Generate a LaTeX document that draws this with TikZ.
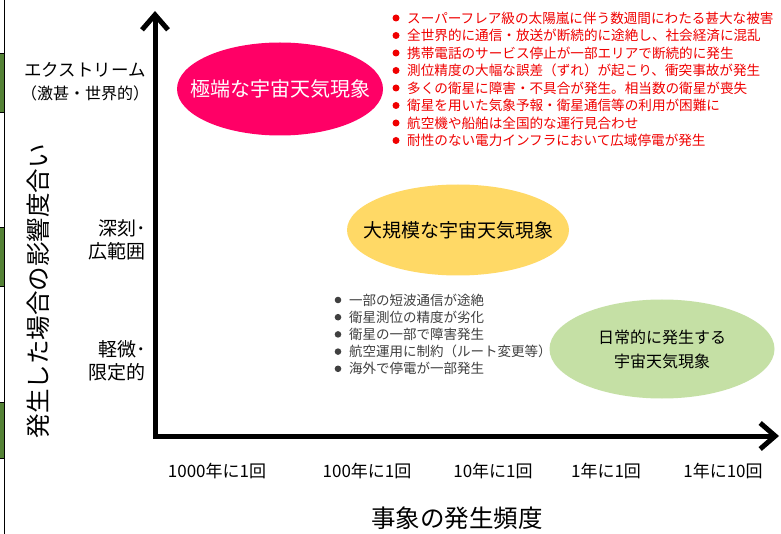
\documentclass[tikz,border=0pt]{standalone}
\usepackage{fontspec}
\newfontfamily\jp{Noto Sans CJK JP}
\usetikzlibrary{shapes.geometric,arrows.meta}
\definecolor{pinkE}{HTML}{FF0066}
\definecolor{yellowE}{HTML}{FFD966}
\definecolor{greenE}{HTML}{C5E0A5}
\definecolor{redT}{HTML}{F00000}
\definecolor{grayT}{HTML}{404040}
\definecolor{barG}{HTML}{548235}
\tikzset{
  axis/.style={line width=5pt, line join=miter,
    {Straight Barb[length=15pt,width=26pt,line width=5pt]}-{Straight Barb[length=15pt,width=26pt,line width=5pt]}},
  blob/.style={ellipse, inner sep=0pt},
  phen/.style={inner sep=0pt, align=center, font=\jp\fontsize{19}{23}\selectfont},
  redline/.style={anchor=west, inner sep=0pt, text=redT, font=\jp\fontsize{13.6}{16}\selectfont},
  grayline/.style={anchor=west, inner sep=0pt, text=grayT, font=\jp\fontsize{13.5}{15}\selectfont},
  lvl/.style={inner sep=0pt, font=\jp\fontsize{19}{23}\selectfont},
  tick/.style={inner sep=0pt, font=\jp\fontsize{17}{20}\selectfont},
  title/.style={inner sep=0pt, font=\jp\fontsize{24.5}{28}\selectfont}
}
\begin{document}
\begin{tikzpicture}[x=1pt,y=-1pt]
\useasboundingbox (0,0) rectangle (781,534);
\fill[white] (0,0) rectangle (781,534);
% left edge bars
\foreach \a/\b in {54/113, 228/287, 402/458}{
  \fill[barG] (0,\a) rectangle (4,\b);
  \draw[line width=1pt] (0,\a) -- (4,\a) (0,\b) -- (4,\b);
}
\draw[line width=1.3pt] (4.3,0) -- (4.3,534);
% axes
\coordinate (origin) at (155,436);
\coordinate (ytip) at (155,11);
\coordinate (xtip) at (779,436);
\draw[axis] (ytip) -- (origin) -- (xtip);
% ellipses
\node[blob, fill=pinkE, minimum width=206pt, minimum height=93pt] (extreme) at (280,89) {};
\node[phen, text=white, font=\jp\fontsize{20}{24}\selectfont] (extremeT) at (extreme.center) {極端な宇宙天気現象};
\node[blob, fill=yellowE, minimum width=222pt, minimum height=91pt] (large) at (458,230) {};
\node[phen] (largeT) at (large.center) {大規模な宇宙天気現象};
\node[blob, fill=greenE, minimum width=225pt, minimum height=99pt] (daily) at (662,349) {};
\node[phen, font=\jp\fontsize{16}{24}\selectfont] (dailyT) at (daily.center) {日常的に発生する\\宇宙天気現象};
% red list
\foreach \t [count=\i] in {スーパーフレア級の太陽嵐に伴う数週間にわたる甚大な被害,
  全世界的に通信・放送が断続的に途絶し、社会経済に混乱,
  携帯電話のサービス停止が一部エリアで断続的に発生,
  測位精度の大幅な誤差（ずれ）が起こり、衝突事故が発生,
  多くの衛星に障害・不具合が発生。相当数の衛星が喪失,
  衛星を用いた気象予報・衛星通信等の利用が困難に,
  航空機や船舶は全国的な運行見合わせ,
  耐性のない電力インフラにおいて広域停電が発生}{
  \fill[redT] (396,{18+17.5*(\i-1)}) circle (3.5pt);
  \node[redline] (r\i) at (407,{18+17.5*(\i-1)}) {\t};
}
% gray list
\foreach \t [count=\i] in {一部の短波通信が途絶,
  衛星測位の精度が劣化,
  衛星の一部で障害発生,
  航空運用に制約（ルート変更等）,
  海外で停電が一部発生}{
  \fill[grayT] (338,{300+17.2*(\i-1)}) circle (3.3pt);
  \node[grayline] (g\i) at (349,{300+17.2*(\i-1)}) {\t};
}
% y-axis level labels
\node[lvl, align=center] (lvext) at (85,82) {{\fontsize{17.5}{19}\selectfont エクストリーム}\\{\fontsize{16}{19}\selectfont （激甚・世界的）}};
\node[lvl, align=right, anchor=east] (lvdeep) at (146,240) {深刻･\\広範囲};
\node[lvl, align=right, anchor=east] (lvminor) at (146,361) {軽微･\\限定的};
% y title
\node[title, rotate=90] (ytitle) at (38,291) {発生した場合の影響度合い};
% x ticks
\node[tick] (t1) at (217,471) {1000年に1回};
\node[tick] (t2) at (367,471) {100年に1回};
\node[tick] (t3) at (493,471) {10年に1回};
\node[tick] (t4) at (606,471) {1年に1回};
\node[tick] (t5) at (723,471) {1年に10回};
% x title
\node[title] (xtitle) at (457,518) {事象の発生頻度};
\end{tikzpicture}
\end{document}
